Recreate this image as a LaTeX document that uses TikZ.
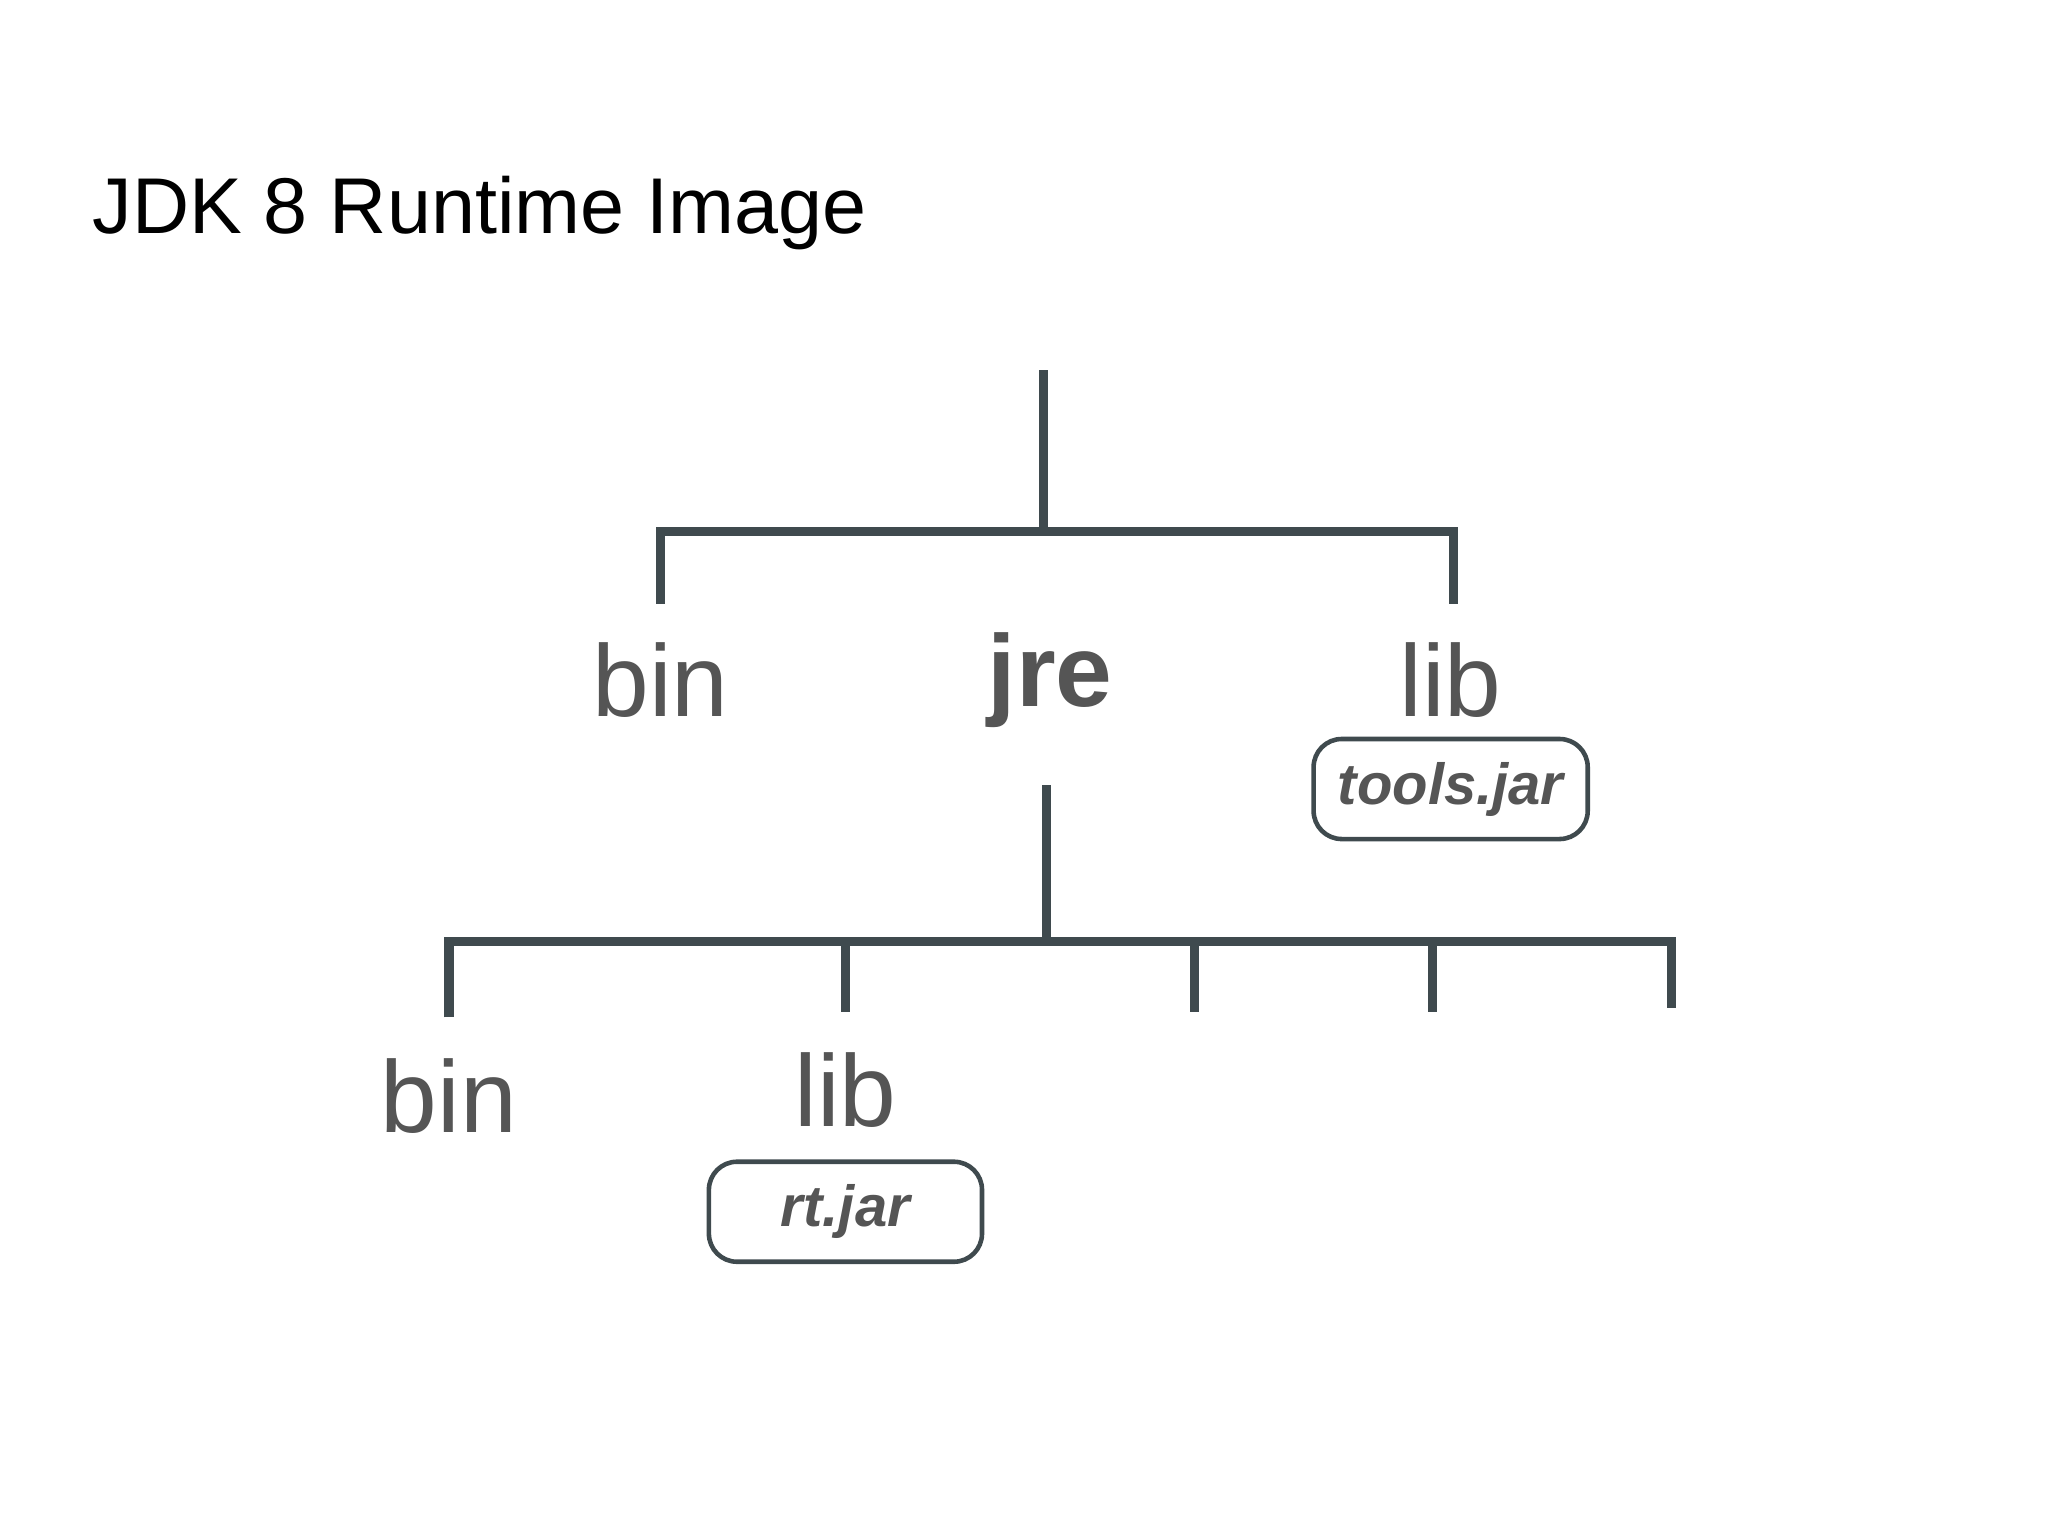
\documentclass[tikz,border=0pt]{standalone}
\usepackage{fontspec}
\setmainfont{Liberation Sans}
\usetikzlibrary{positioning}
\definecolor{treeline}{HTML}{3F4A4E}
\definecolor{dirtext}{HTML}{555555}
\tikzset{
  dir/.style={text=dirtext, font=\fontsize{29}{29}\selectfont, anchor=center},
  jar/.style={draw=treeline, line width=1.3pt, rounded corners=8pt, text=dirtext,
    font=\fontsize{16.5}{16.5}\selectfont\bfseries\itshape, minimum height=1cm, inner sep=2pt},
  branch/.style={draw=treeline, line width=2.6pt}
}
\begin{document}
\begin{tikzpicture}[x=0.013128cm,y=-0.013128cm]
\useasboundingbox (0,0) rectangle (1560,1170);
% Title
  \node[anchor=base west, inner sep=0pt, font=\fontsize{22.5}{22.5}\selectfont] (title) at (70,178) {JDK 8 Runtime Image};
% Top level
  \coordinate (root) at (795,282);
  \coordinate (rootj) at (795,405);
  \coordinate (tl) at (503,405);
  \coordinate (tr) at (1107,405);
  \coordinate (tbin) at (503,460);
  \coordinate (tlib) at (1107,460);
  \node[dir] (bin) at (503,518) {bin};
  \node[dir, font=\fontsize{29}{29}\selectfont\bfseries] (jre) at (800,518) {jre};
  \node[dir] (lib) at (1105,518) {lib};
  \node[jar, minimum width=2.74cm] (tools) at (1105,601) {tools.jar};
  \draw[branch] (root) -- (rootj);
  \draw[branch] (tbin) -- (tl) -- (tr) -- (tlib);
% jre level
  \coordinate (jtop) at (797,598);
  \coordinate (jmid) at (797,717);
  \coordinate (jl) at (342,717);
  \coordinate (jr) at (1273,717);
  \coordinate (jbin) at (342,775);
  \coordinate (jend) at (1273,768);
  \node[dir] (bin2) at (342,835) {bin};
  \node[dir] (lib2) at (644,830) {lib};
  \node[jar, minimum width=2.73cm] (rt) at (644,923) {rt.jar};
  \draw[branch] (jtop) -- (jmid);
  \draw[branch] (jbin) -- (jl) -- (jr) -- (jend);
  \foreach \x in {644,910,1091}
    \draw[branch] (\x,717) -- (\x,771);
\end{tikzpicture}
\end{document}
